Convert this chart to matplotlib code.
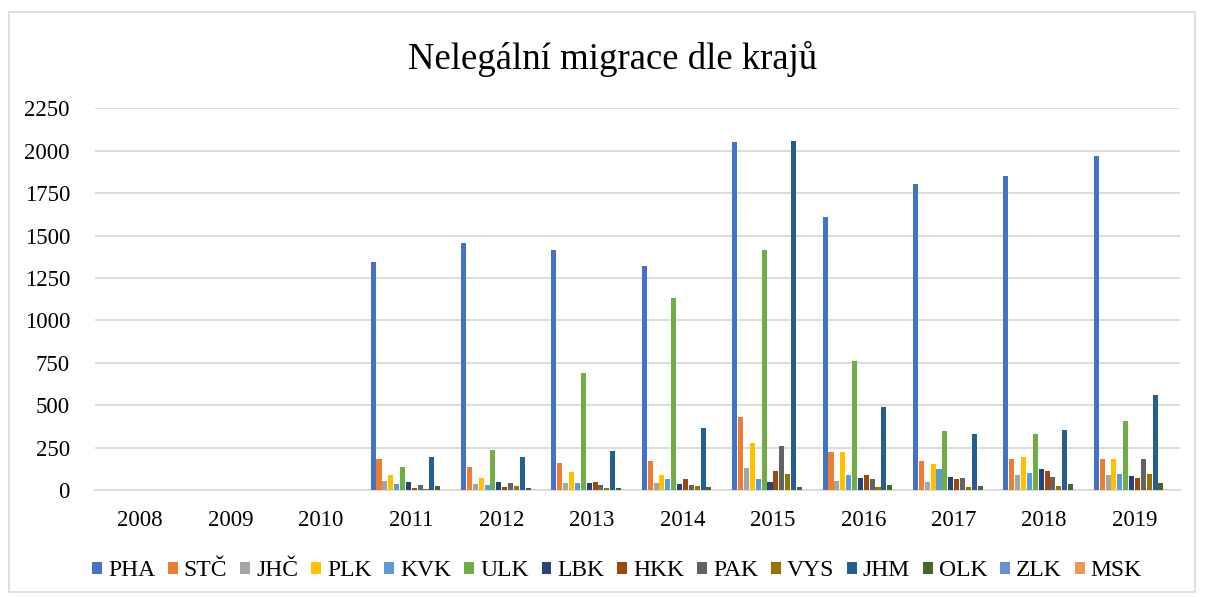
import numpy as np
import matplotlib.pyplot as plt
from matplotlib.patches import Rectangle

plt.rcParams['font.family'] = ['Liberation Serif', 'DejaVu Serif']

years = ['2008', '2009', '2010', '2011', '2012', '2013', '2014', '2015',
         '2016', '2017', '2018', '2019']
regions = ['PHA', 'STČ', 'JHČ', 'PLK', 'KVK', 'ULK', 'LBK', 'HKK', 'PAK',
           'VYS', 'JHM', 'OLK', 'ZLK', 'MSK']
colors = ['#4472C4', '#ED7D31', '#A5A5A5', '#FFC000', '#5B9BD5', '#70AD47',
          '#264478', '#9E480E', '#636363', '#997300', '#255E91', '#43682B',
          '#698ED0', '#F1975A']

# values per region, 2008..2019 (no data for 2008-2010)
PHA = [0, 0, 0, 1346, 1458, 1417, 1323, 2050, 1608, 1804, 1850, 1971]
STC = [0, 0, 0, 185, 138, 160, 173, 431, 226, 171, 183, 183]
JHC = [0, 0, 0, 53, 39, 41, 41, 132, 53, 49, 87, 89]
PLK = [0, 0, 0, 89, 71, 104, 91, 278, 223, 154, 195, 183]
KVK = [0, 0, 0, 39, 30, 45, 65, 65, 89, 122, 100, 98]
ULK = [0, 0, 0, 136, 236, 691, 1132, 1415, 761, 348, 329, 408]
LBK = [0, 0, 0, 47, 49, 43, 37, 47, 73, 77, 122, 81]
HKK = [0, 0, 0, 14, 18, 47, 65, 114, 89, 67, 114, 69]
PAK = [0, 0, 0, 28, 45, 33, 30, 258, 65, 69, 77, 181]
VYS = [0, 0, 0, 8, 22, 14, 22, 96, 16, 18, 24, 98]
JHM = [0, 0, 0, 193, 195, 228, 366, 2056, 488, 329, 354, 563]
OLK = [0, 0, 0, 22, 10, 12, 16, 16, 30, 22, 39, 45]
ZLK = [0] * 12
MSK = [0] * 12

series = [PHA, STC, JHC, PLK, KVK, ULK, LBK, HKK, PAK, VYS, JHM, OLK, ZLK, MSK]

fig = plt.figure(figsize=(12.05, 5.97), dpi=100)
ax = fig.add_axes([0.0788, 0.179, 0.9002, 0.6396])

x = np.arange(len(years))
step = 0.065
for i, (name, vals) in enumerate(zip(regions, series)):
    off = (i - 6.5) * step
    ax.bar(x + off, vals, width=step * 0.86, color=colors[i], label=name,
           zorder=3)

ax.set_xlim(-0.5, len(years) - 0.5)
ax.set_ylim(0, 2250)
ax.set_yticks(np.arange(0, 2251, 250))
ax.set_xticks(x)
ax.set_xticklabels(years)
ax.grid(axis='y', color='#D9D9D9', linewidth=1.3, zorder=0)
for s in ['top', 'right', 'left']:
    ax.spines[s].set_visible(False)
ax.spines['bottom'].set_color('#D9D9D9')
ax.spines['bottom'].set_linewidth(1.3)
ax.tick_params(axis='both', length=0, labelsize=16.5, colors='black')
ax.tick_params(axis='y', pad=18)
ax.tick_params(axis='x', pad=14)

fig.text(0.508, 0.902, 'Nelegální migrace dle krajů', ha='center', va='center',
         fontsize=26.5)

fig.legend(loc='center', bbox_to_anchor=(0.512, 0.044), ncol=14, frameon=False,
           fontsize=17, handlelength=0.42, handleheight=0.42, handletextpad=0.25,
           columnspacing=0.55)

fig.patches.append(Rectangle((9 / 1205, 1 - 592 / 597), 1186 / 1205, 580 / 597,
                             transform=fig.transFigure, fill=False,
                             edgecolor='#D9D9D9', linewidth=1.2))

fig.savefig('out.png', dpi=100)
